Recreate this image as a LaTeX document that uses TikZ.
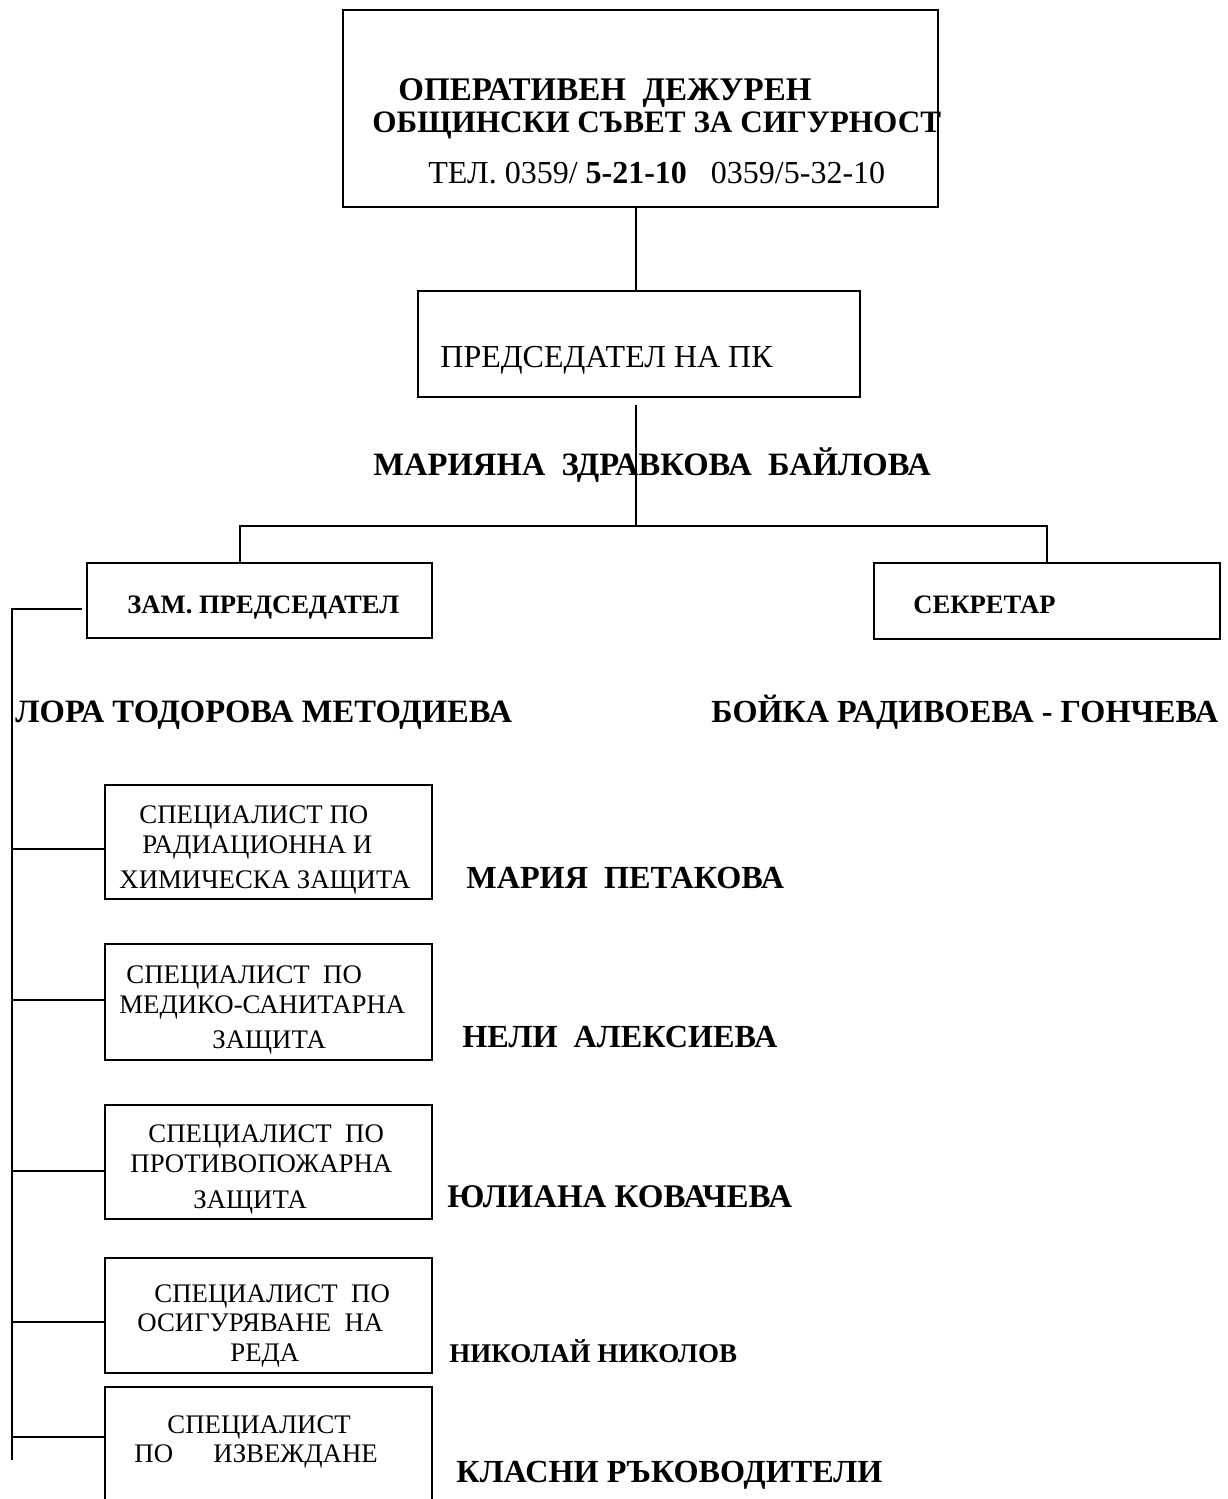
\documentclass[tikz,border=0pt]{standalone}
\usepackage{fontspec}
\setmainfont{Liberation Serif}
\usetikzlibrary{calc}
\begin{document}
\begin{tikzpicture}[x=0.5pt,y=-0.5pt,
  box/.style={draw, line width=1.1pt, rectangle, inner sep=0pt},
  conn/.style={line width=1pt},
  txt/.style={anchor=base west, inner sep=0pt},
  fs/.style={font=\fontsize{#1}{#1}\selectfont},
  fsb/.style={font=\fontsize{#1}{#1}\selectfont\bfseries},
  spec/.style={font=\fontsize{13.4}{16}\selectfont}]
\useasboundingbox (0,0) rectangle (1227,1499);

% boxes
\node[box, minimum width=297.5pt, minimum height=98.5pt] (top) at (640.5,108.5) {};
\node[box, minimum width=221pt, minimum height=53pt] (pk) at (639,344) {};
\node[box, minimum width=172.5pt, minimum height=37.5pt] (zam) at (259.5,600.5) {};
\node[box, minimum width=173pt, minimum height=38pt] (sek) at (1047,601) {};
\node[box, minimum width=163.5pt, minimum height=57pt] (s1) at (268.5,842) {};
\node[box, minimum width=163.5pt, minimum height=58pt] (s2) at (268.5,1002) {};
\node[box, minimum width=163.5pt, minimum height=57pt] (s3) at (268.5,1162) {};
\node[box, minimum width=163.5pt, minimum height=57.5pt] (s4) at (268.5,1315.5) {};
\node[box, minimum width=163.5pt, minimum height=62pt] (s5) at (268.5,1449) {};

% junction coordinates
\coordinate (j) at (636,526);
\coordinate (jl) at (240,526);
\coordinate (jr) at (1047,526);
\coordinate (sp) at (12,609);
\coordinate (spend) at (12,1460);
\coordinate (b1) at (12,849);
\coordinate (b2) at (12,1000);
\coordinate (b3) at (12,1171);
\coordinate (b4) at (12,1322);
\coordinate (b5) at (12,1437);

% connectors
\draw[conn] (top.south -| j) -- (pk.north -| j);
\draw[conn] ($(pk.south -| j)+(0,7)$) -- (j);
\draw[conn] (zam.north -| jl) -- (jl) -- (jr) -- (sek.north -| jr);
\draw[conn] ($(zam.west |- sp)+(-4,0)$) -- (sp) -- (spend);
\draw[conn] (b1) -- (b1 -| s1.west);
\draw[conn] (b2) -- (b2 -| s2.west);
\draw[conn] (b3) -- (b3 -| s3.west);
\draw[conn] (b4) -- (b4 -| s4.west);
\draw[conn] (b5) -- (b5 -| s5.west);

% texts in top box
\node[txt, fsb=16.5] (t1) at (398,100) {ОПЕРАТИВЕН~~ДЕЖУРЕН};
\node[txt, fsb=15.6] (t2) at (372,132) {ОБЩИНСКИ СЪВЕТ ЗА СИГУРНОСТ};
\node[txt, fs=16] (t3) at (428,183) {ТЕЛ. 0359/ \textbf{5-21-10}~~ 0359/5-32-10};

\node[txt, fs=16] (tpk) at (440,367) {ПРЕДСЕДАТЕЛ НА ПК};
\node[txt, fsb=16.3] (nm1) at (373,475) {МАРИЯНА~~ЗДРАВКОВА~~БАЙЛОВА};

\node[txt, fsb=13.3] (tzam) at (127,613) {ЗАМ. ПРЕДСЕДАТЕЛ};
\node[txt, fsb=13.3] (tsek) at (913,613) {СЕКРЕТАР};
\node[txt, fsb=16.3] (nm2) at (15,722) {ЛОРА ТОДОРОВА МЕТОДИЕВА};
\node[txt, fsb=16.1] (nm3) at (711,722) {БОЙКА РАДИВОЕВА - ГОНЧЕВА};

% specialist box texts
\node[txt, spec] (a1) at (139,823) {СПЕЦИАЛИСТ ПО};
\node[txt, spec] (a2) at (142,853) {РАДИАЦИОННА И};
\node[txt, spec] (a3) at (119,888) {ХИМИЧЕСКА ЗАЩИТА};

\node[txt, spec] (c1) at (126,983) {СПЕЦИАЛИСТ~~ПО};
\node[txt, spec] (c2) at (119,1013) {МЕДИКО-САНИТАРНА};
\node[txt, spec] (c3) at (212,1048) {ЗАЩИТА};

\node[txt, spec] (d1) at (148,1142) {СПЕЦИАЛИСТ~~ПО};
\node[txt, spec] (d2) at (130,1172) {ПРОТИВОПОЖАРНА};
\node[txt, spec] (d3) at (193,1208) {ЗАЩИТА};

\node[txt, spec] (e1) at (154,1302) {СПЕЦИАЛИСТ~~ПО};
\node[txt, spec] (e2) at (137,1331) {ОСИГУРЯВАНЕ~~НА};
\node[txt, spec] (e3) at (230,1361) {РЕДА};

\node[txt, spec] (f1) at (167,1433) {СПЕЦИАЛИСТ};
\node[txt, spec] (f2) at (134,1462) {ПО};
\node[txt, spec] (f3) at (213,1462) {ИЗВЕЖДАНЕ};

% names
\node[txt, fsb=16.1] (n1) at (466,888) {МАРИЯ~~ПЕТАКОВА};
\node[txt, fsb=16.1] (n2) at (462,1047) {НЕЛИ~~АЛЕКСИЕВА};
\node[txt, fsb=16.5] (n3) at (447,1207) {ЮЛИАНА КОВАЧЕВА};
\node[txt, fsb=13.5] (n4) at (449,1362) {НИКОЛАЙ НИКОЛОВ};
\node[txt, fsb=16.1] (n5) at (456,1482) {КЛАСНИ РЪКОВОДИТЕЛИ};
\end{tikzpicture}
\end{document}
